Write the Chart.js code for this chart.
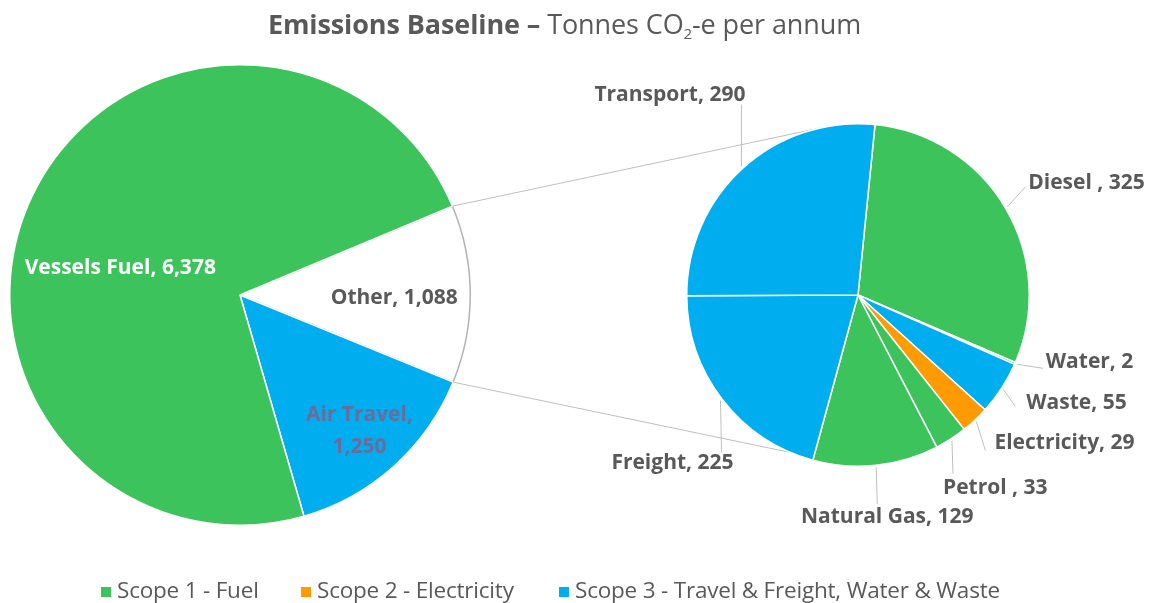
<!DOCTYPE html>
<html><head><meta charset="utf-8">
<script src="https://cdn.jsdelivr.net/npm/chart.js@4.4.1/dist/chart.umd.min.js"></script>
<style>
html,body{margin:0;padding:0;background:#fff;}
#wrap{position:relative;width:1159px;height:603px;overflow:hidden;font-family:'Open Sans',Lato,sans-serif;color:#595959;}
canvas{position:absolute;left:0;top:0;}
#title{position:absolute;left:-15px;width:1159px;top:7px;text-align:center;font-size:27px;line-height:34px;color:#595959;white-space:nowrap;letter-spacing:-0.1px;}
#title b{font-weight:700;}
#title sub{font-size:15px;vertical-align:-5px;line-height:0;}
#legend{position:absolute;left:0;top:576px;width:1159px;height:27px;font-size:22.5px;line-height:28px;white-space:nowrap;color:#595959;letter-spacing:-0.2px;}
#legend span.item{position:absolute;top:0;}
#legend i{display:inline-block;width:10px;height:10px;margin-right:6px;vertical-align:1px;}
</style>
</head><body>
<div id="wrap">
  <canvas id="mainPie" width="1159" height="603"></canvas>
  <canvas id="subPie" width="1159" height="603"></canvas>
  <div id="title"><b>Emissions Baseline –</b> Tonnes CO<sub>2</sub>-e per annum</div>
  <div id="legend"></div>
</div>
<script>
// ---- data ----
const mainLabels = ['Other', 'Air Travel', 'Vessels Fuel'];
const mainValues = [1088, 1250, 6378];
const mainScopes = [0, 3, 1];
const subLabels = ['Diesel ', 'Water', 'Waste', 'Electricity', 'Petrol ', 'Natural Gas', 'Freight', 'Transport'];
const subValues = [325, 2, 55, 29, 33, 129, 225, 290];
const subScopes = [1, 3, 3, 2, 1, 1, 3, 3];
const scopeNames = ['Scope 1 - Fuel', 'Scope 2 - Electricity', 'Scope 3 - Travel & Freight, Water & Waste'];

// ---- styles ----
const scopeColors = {0: '#ffffff', 1: '#3dc35b', 2: '#ff9a00', 3: '#00aeef'};
const textGray = '#595959';
const FONT = '"Open Sans", Lato, sans-serif';
const fmt = v => v.toLocaleString('en-US');
const legendItemLeft = [101, 301, 559];

// legend (HTML text)
document.getElementById('legend').innerHTML = scopeNames.map((n, i) =>
  '<span class="item" style="left:' + legendItemLeft[i] + 'px"><i style="background:' + scopeColors[i + 1] + '"></i>' + n.replace(/&/g, '&amp;') + '</span>').join('');

// label layout for main pie: radial fraction and angle shift (deg) from slice mid-angle
const mainLabelLayout = [
  {frac: 0.67, shift: 1.5, color: textGray, lines: 1},
  {frac: 0.785, shift: 0.6, color: '#6a6c9c', lines: 2},
  {frac: 0.533, shift: -12.9, color: '#ffffff', lines: 1}
];

const mainLabelPlugin = {
  id: 'mainLabels',
  afterDatasetsDraw(chart) {
    const ctx = chart.ctx;
    const meta = chart.getDatasetMeta(0);
    ctx.save();
    ctx.font = 'bold 21px ' + FONT;
    ctx.textAlign = 'center';
    ctx.textBaseline = 'middle';
    meta.data.forEach((arc, i) => {
      const L = mainLabelLayout[i];
      const a = (arc.startAngle + arc.endAngle) / 2 + L.shift * Math.PI / 180;
      const r = arc.outerRadius * L.frac;
      const x = arc.x + Math.cos(a) * r, y = arc.y + Math.sin(a) * r;
      ctx.fillStyle = L.color;
      const name = chart.data.labels[i], val = fmt(chart.data.datasets[0].data[i]);
      if (L.lines === 2) {
        ctx.fillText(name + ',', x, y - 16);
        ctx.fillText(val, x, y + 16);
      } else {
        ctx.fillText(name + ', ' + val, x, y);
      }
    });
    ctx.restore();
  }
};

const mainChart = new Chart(document.getElementById('mainPie'), {
  type: 'pie',
  data: {
    labels: mainLabels,
    datasets: [{
      data: mainValues,
      backgroundColor: mainScopes.map(s => scopeColors[s]),
      borderColor: ['#b3b3b3', '#ffffff', '#ffffff'],
      borderWidth: 1.5
    }]
  },
  options: {
    responsive: false,
    animation: false,
    rotation: 67.3,
    layout: {padding: {left: 9, right: 688, top: 64, bottom: 77}},
    plugins: {legend: {display: false}, tooltip: {enabled: false}, title: {display: false}}
  },
  plugins: [mainLabelPlugin]
});

// sub pie label layout: leader end offset from slice edge (lx,ly); text offset from leader end (tx,ty) and alignment
const subLabelLayout = [
  {lx: 18, ly: -20, tx: 3, ty: -4, align: 'left'},
  {lx: 26, ly: 4, tx: 3, ty: -6, align: 'left'},
  {lx: 12, ly: 17, tx: 11, ty: -3, align: 'left'},
  {lx: 9, ly: 29, tx: 9, ty: -7, align: 'left'},
  {lx: 1, ly: 33, tx: -10, ty: 14, align: 'left'},
  {lx: 1, ly: 37, tx: 10, ty: 13, align: 'center'},
  {lx: 1, ly: 52, tx: 12, ty: 11, align: 'right'},
  {lx: 0, ly: -62, tx: 4, ty: -10, align: 'right'}
];

const connectorPlugin = {
  id: 'connectors',
  beforeDatasetsDraw(chart) {
    const ctx = chart.ctx;
    const m = mainChart.getDatasetMeta(0).data[0]; // "Other" slice
    const s = chart.getDatasetMeta(0).data[0];
    const R = s.outerRadius;
    const p1 = [m.x + Math.cos(m.startAngle) * m.outerRadius, m.y + Math.sin(m.startAngle) * m.outerRadius];
    const p2 = [m.x + Math.cos(m.endAngle) * m.outerRadius, m.y + Math.sin(m.endAngle) * m.outerRadius];
    const a1 = -102 * Math.PI / 180, a2 = 113 * Math.PI / 180;
    const q1 = [s.x + Math.cos(a1) * R, s.y + Math.sin(a1) * R];
    const q2 = [s.x + Math.cos(a2) * R, s.y + Math.sin(a2) * R];
    ctx.save();
    ctx.strokeStyle = '#bfbfbf';
    ctx.lineWidth = 1;
    ctx.beginPath();
    ctx.moveTo(p1[0], p1[1]); ctx.lineTo(q1[0], q1[1]);
    ctx.moveTo(p2[0], p2[1]); ctx.lineTo(q2[0], q2[1]);
    ctx.stroke();
    ctx.restore();
  },
  afterDatasetsDraw(chart) {
    const ctx = chart.ctx;
    const meta = chart.getDatasetMeta(0);
    ctx.save();
    ctx.font = 'bold 21px ' + FONT;
    ctx.textBaseline = 'middle';
    meta.data.forEach((arc, i) => {
      const L = subLabelLayout[i];
      const a = (arc.startAngle + arc.endAngle) / 2;
      const ex = arc.x + Math.cos(a) * (arc.outerRadius + 2);
      const ey = arc.y + Math.sin(a) * (arc.outerRadius + 2);
      const lx = ex + L.lx, ly = ey + L.ly;
      ctx.strokeStyle = '#bfbfbf';
      ctx.lineWidth = 1;
      ctx.beginPath();
      ctx.moveTo(ex, ey); ctx.lineTo(lx, ly);
      ctx.stroke();
      ctx.fillStyle = textGray;
      ctx.textAlign = L.align;
      ctx.fillText(chart.data.labels[i] + ', ' + fmt(chart.data.datasets[0].data[i]), lx + L.tx, ly + L.ty);
    });
    ctx.restore();
  }
};

const subChart = new Chart(document.getElementById('subPie'), {
  type: 'pie',
  data: {
    labels: subLabels,
    datasets: [{
      data: subValues,
      backgroundColor: subScopes.map(s => scopeColors[s]),
      borderColor: '#ffffff',
      borderWidth: 1.5
    }]
  },
  options: {
    responsive: false,
    animation: false,
    rotation: 5.7,
    layout: {padding: {left: 686, right: 129, top: 123, bottom: 136}},
    plugins: {legend: {display: false}, tooltip: {enabled: false}, title: {display: false}}
  },
  plugins: [connectorPlugin]
});
</script>
</body></html>
